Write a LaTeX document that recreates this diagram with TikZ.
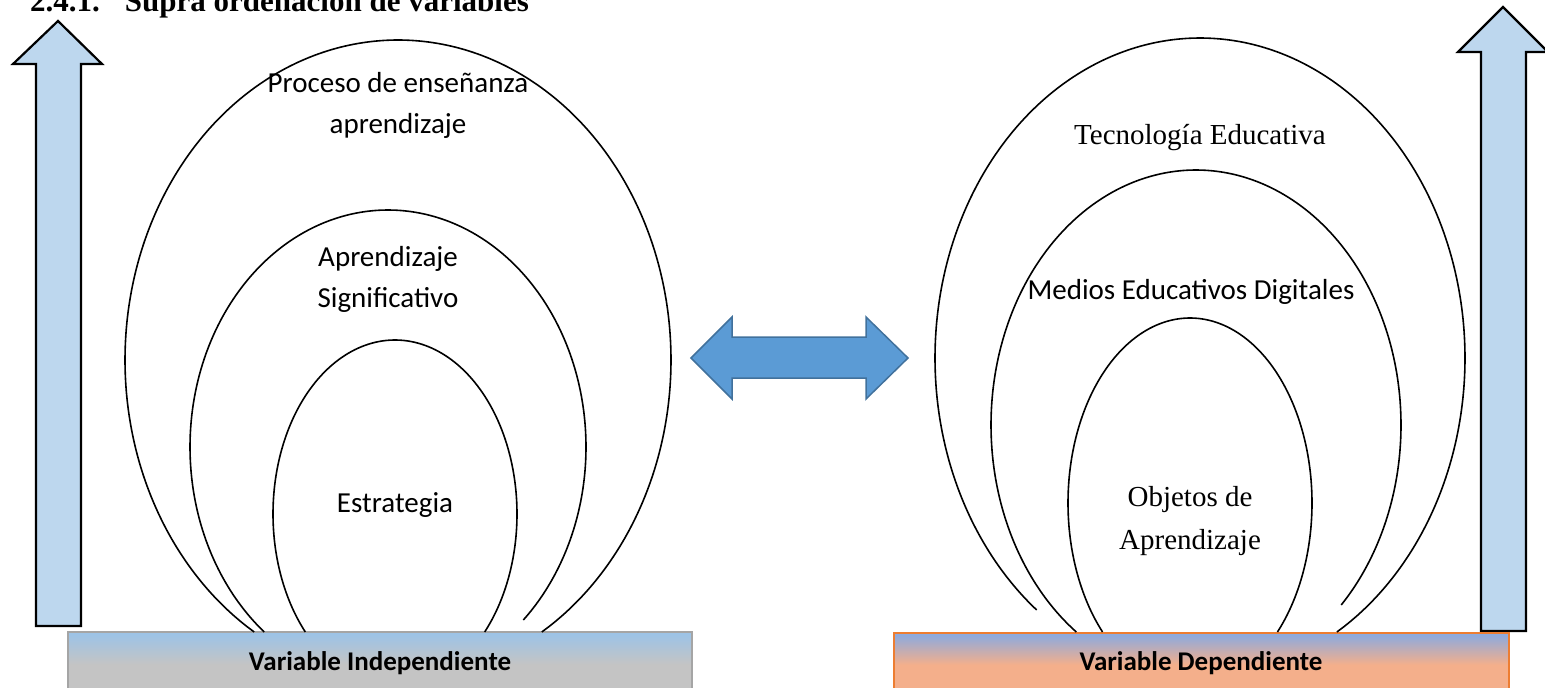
\documentclass[tikz,border=0pt]{standalone}
\usepackage{fontspec}
\setmainfont{Liberation Serif}
\newfontfamily\calibri{Carlito}
\definecolor{arrowfill}{HTML}{BDD7EE}
\definecolor{dblfill}{HTML}{5B9BD5}
\definecolor{dbldraw}{HTML}{41719C}
\definecolor{indblue}{HTML}{9DC3E6}
\definecolor{indgray}{HTML}{C4C4C4}
\definecolor{indborder}{HTML}{A5A5A5}
\definecolor{depblue}{HTML}{8FAADC}
\definecolor{deporange}{HTML}{F4AF8B}
\definecolor{depborder}{HTML}{ED7D31}
\pgfdeclareverticalshading{indshade}{100bp}{color(0bp)=(indgray); color(48bp)=(indgray); color(73bp)=(indblue); color(100bp)=(indblue)}
\pgfdeclareverticalshading{depshade}{100bp}{color(0bp)=(deporange); color(48bp)=(deporange); color(73bp)=(depblue); color(100bp)=(depblue)}
\newcommand\openell[6]{%
  \pgfmathsetmacro\myTa{180-asin((#5-#2)/#4)}%
  \pgfmathsetmacro\myTb{360+asin((#6-#2)/#4)}%
  \draw[ring] plot[domain=\myTa:\myTb, samples=160, smooth] ({#1+#3*cos(\x)},{#2+#4*sin(\x)});%
}
\tikzset{
  ring/.style={line width=1.6pt, black},
  uparrow/.style={fill=arrowfill, draw=black, line width=2.2pt, line join=miter},
  lblc/.style={font=\calibri\fontsize{29}{41}\selectfont, align=center, inner sep=0pt},
  lblt/.style={font=\fontsize{29}{43}\selectfont, align=center, inner sep=0pt},
  boxlbl/.style={font=\calibri\bfseries\fontsize{27}{32}\selectfont, inner sep=0pt},
}
\begin{document}
\begin{tikzpicture}[x=1pt, y=-1pt]
\useasboundingbox (0,0) rectangle (1545,688);
% title
\node[anchor=base west, inner sep=0pt, font=\bfseries\fontsize{31}{36}\selectfont] (title) at (30,11) {2.4.1.\hspace{25pt}Supra ordenación de variables};
% up arrows
\draw[uparrow] (58,21) -- (102,64) -- (81,64) -- (81,626) -- (36,626) -- (36,64) -- (13,64) -- cycle;
\draw[uparrow] (1503,7) -- (1548,52) -- (1526,52) -- (1526,631) -- (1481,631) -- (1481,52) -- (1458,52) -- cycle;
% bottom boxes
\shade[shading=indshade] (68,632) rectangle (692,692);
\draw[indborder, line width=1.5pt] (68,692) -- (68,632) -- (692,632) -- (692,692);
\shade[shading=depshade] (894,633) rectangle (1509,692);
\draw[depborder, line width=1.5pt] (894,692) -- (894,633) -- (1509,633) -- (1509,692);
\node[boxlbl] (vi) at (380,663) {Variable Independiente};
\node[boxlbl] (vd) at (1201,663) {Variable Dependiente};
% left ellipses
\openell{398}{360}{273}{320}{632}{632}
\openell{388}{447}{198}{237}{632}{620}
\openell{395}{514}{122}{174}{632}{632}
% right ellipses
\openell{1200}{358}{265}{320}{610}{632}
\openell{1196}{425}{205}{255}{632}{605}
\openell{1190}{503}{122}{185}{632}{632}
% labels
\node[lblc] (pea) at (398,105) {Proceso de enseñanza\\aprendizaje};
\node[lblc] (as) at (388,279) {Aprendizaje\\Significativo};
\node[lblc] (est) at (395,505) {Estrategia};
\node[lblt] (te) at (1200,138) {Tecnología Educativa};
\node[lblc] (med) at (1191,292) {Medios Educativos Digitales};
\node[lblt] (oa) at (1190,521) {Objetos de\\Aprendizaje};
% double arrow
\draw[fill=dblfill, draw=dbldraw, line width=1.5pt, line join=miter] (691,358) -- (732,317) -- (732,337) -- (866,337) -- (866,317) -- (908,358) -- (866,399) -- (866,378) -- (732,378) -- (732,399) -- cycle;
\end{tikzpicture}
\end{document}
